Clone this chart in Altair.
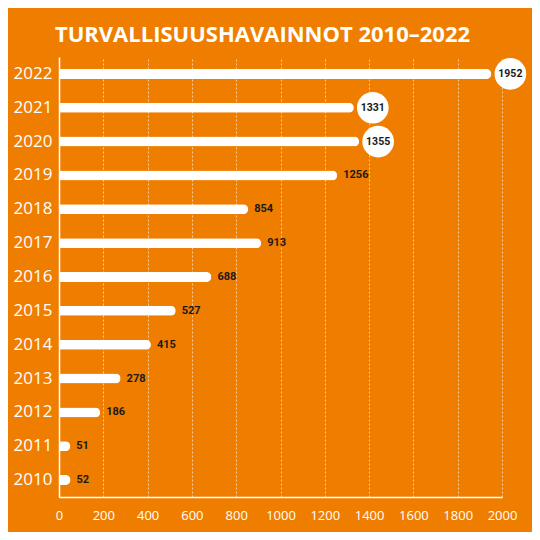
import altair as alt
import pandas as pd

years = ["2022", "2021", "2020", "2019", "2018", "2017", "2016", "2015", "2014", "2013", "2012", "2011", "2010"]
values = [1952, 1331, 1355, 1256, 854, 913, 688, 527, 415, 278, 186, 51, 52]
highlighted = ["2022", "2021", "2020"]
x_ticks = [0, 200, 400, 600, 800, 1000, 1200, 1400, 1600, 1800, 2000]

df = pd.DataFrame({"year": years, "value": values})
df["hl"] = df["year"].isin(highlighted)

ORANGE = "#EF7E00"

y_enc = alt.Y("year:N", sort=years, title=None,
              scale=alt.Scale(paddingInner=0, paddingOuter=0),
              axis=alt.Axis(labelColor="white", labelFontSize=17, labelFont="Open Sans",
                            ticks=False, labelPadding=7, domainColor="white",
                            domainWidth=1.5, grid=False))
x_enc = alt.X("value:Q", title=None,
              scale=alt.Scale(domain=[0, 2000], nice=False),
              axis=alt.Axis(values=x_ticks, format="d", labelColor="white", labelFontSize=13,
                            labelFont="Open Sans", ticks=False, labelPadding=12,
                            domainColor="white", domainWidth=1.5, grid=True,
                            gridColor="white", gridOpacity=0.6, gridDash=[2, 2],
                            gridWidth=1, labelFlush=False))

base = alt.Chart(df)

bars = base.mark_bar(color="white", size=10, cornerRadiusEnd=5).encode(x=x_enc, y=y_enc)

circles = base.transform_filter("datum.hl").mark_circle(
    color="white", opacity=1, size=1000, xOffset=19
).encode(x="value:Q", y=alt.Y("year:N", sort=years))

circle_text = base.transform_filter("datum.hl").mark_text(
    xOffset=19, align="center", baseline="middle", fontSize=10.5, fontWeight="bold",
    font="Roboto", color="#1a1a1a"
).encode(x="value:Q", y=alt.Y("year:N", sort=years), text="value:Q")

labels = base.transform_filter("!datum.hl").mark_text(
    xOffset=6, align="left", baseline="middle", fontSize=11, fontWeight="bold",
    font="Roboto", color="#1a1a1a"
).encode(x="value:Q", y=alt.Y("year:N", sort=years), text="value:Q")

chart = alt.layer(bars, circles, circle_text, labels).properties(
    width=443, height=440,
    title=alt.Title("TURVALLISUUSHAVAINNOT 2010–2022", color="white", fontSize=22,
                    font="Open Sans", fontWeight="bold", anchor="middle", offset=10, dx=-18),
    autosize=alt.AutoSizeParams(type="none"),
    padding={"left": 51, "top": 49, "right": 30, "bottom": 35},
    background=ORANGE,
).configure_view(stroke=None)

chart.save("out.html", embed_options={"renderer": "svg", "actions": False})
